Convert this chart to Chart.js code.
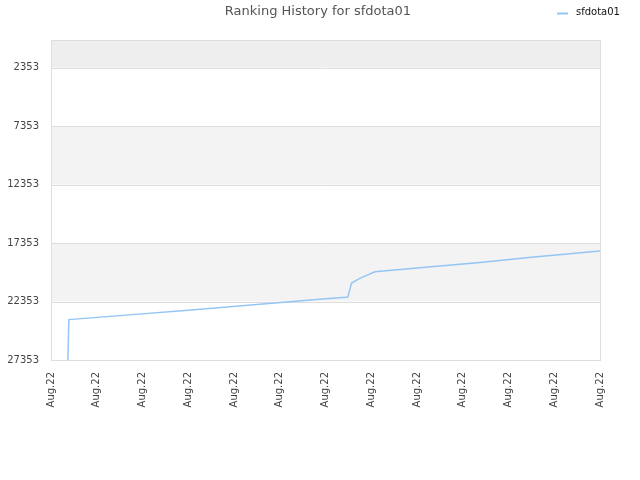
<!DOCTYPE html>
<html>
<head>
<meta charset="utf-8">
<script src="https://cdn.jsdelivr.net/npm/chart.js@4/dist/chart.umd.min.js"></script>
<style>
html,body{margin:0;padding:0;background:#fff;}
#wrap{width:640px;height:480px;position:relative;}
</style>
</head>
<body>
<div id="wrap"><canvas id="c" width="640" height="480"></canvas></div>
<script>
const chartTitle = "Ranking History for sfdota01";
const seriesName = "sfdota01";
const xTickLabels = ["Aug.22","Aug.22","Aug.22","Aug.22","Aug.22","Aug.22","Aug.22","Aug.22","Aug.22","Aug.22","Aug.22","Aug.22","Aug.22"];
const yTickValues = [2353, 7353, 12353, 17353, 22353, 27353];
const dayIndex = [3.7, 3.9, 15, 30, 45, 60, 64.5, 64.9, 65.4, 65.7, 67.5, 70.8, 80, 93.8, 105, 120];
const rankValues = [27353, 23900, 23560, 23090, 22610, 22120, 21990, 21950, 21210, 20780, 20380, 19810, 19480, 19015, 18560, 18030];

const bandPlugin = {
  id: 'bands',
  beforeDatasetsDraw(chart) {
    const {ctx, chartArea, scales} = chart;
    const y = scales.y;
    const bounds = [0].concat(yTickValues);
    ctx.save();
    for (let i = 0; i < bounds.length - 1; i++) {
      if (i % 2 === 0) {
        const p1 = y.getPixelForValue(bounds[i]);
        const p2 = y.getPixelForValue(bounds[i + 1]);
        ctx.fillStyle = i === 0 ? '#eeeeee' : '#f3f3f3';
        ctx.fillRect(chartArea.left, Math.min(p1, p2), chartArea.right - chartArea.left, Math.abs(p2 - p1));
      }
    }
    // grid lines
    ctx.strokeStyle = '#dddddd';
    ctx.lineWidth = 1;
    yTickValues.forEach(v => {
      const p = Math.round(y.getPixelForValue(v)) + 0.5;
      ctx.beginPath();
      ctx.moveTo(chartArea.left, p);
      ctx.lineTo(chartArea.right, p);
      ctx.stroke();
    });
    ctx.strokeRect(Math.round(chartArea.left) + 0.5, Math.round(chartArea.top) + 0.5,
      Math.round(chartArea.right - chartArea.left), Math.round(chartArea.bottom - chartArea.top));
    ctx.restore();
  },
  afterDraw(chart) {
    const ctx = chart.ctx;
    ctx.save();
    ctx.font = '13px "DejaVu Sans"';
    ctx.fillStyle = '#555555';
    ctx.textAlign = 'center';
    ctx.textBaseline = 'middle';
    ctx.fillText(chartTitle, 318, 12);
    // legend
    ctx.strokeStyle = '#95c5f5';
    ctx.lineWidth = 2;
    ctx.beginPath();
    ctx.moveTo(557, 13.5);
    ctx.lineTo(568, 13.5);
    ctx.stroke();
    ctx.font = '10px "DejaVu Sans"';
    ctx.fillStyle = '#111111';
    ctx.textAlign = 'left';
    ctx.fillText(seriesName, 576, 12);
    ctx.restore();
  }
};

new Chart(document.getElementById('c'), {
  type: 'line',
  data: {
    datasets: [{
      label: seriesName,
      data: dayIndex.map((d, i) => ({x: d, y: rankValues[i]})),
      borderColor: '#95c5f5',
      backgroundColor: '#95c5f5',
      borderWidth: 1.5,
      pointRadius: 0,
      tension: 0,
      fill: false
    }]
  },
  options: {
    responsive: false,
    animation: false,
    layout: {padding: {top: 40, right: 40, left: 0, bottom: 0}},
    plugins: {
      legend: {display: false},
      title: {display: false},
      tooltip: {enabled: false}
    },
    scales: {
      x: {
        type: 'linear',
        min: 0,
        max: 120,
        afterBuildTicks(scale) {
          scale.ticks = xTickLabels.map((l, i) => ({value: i * 10}));
        },
        afterFit(scale) { scale.height = 120; },
        grid: {display: false, drawTicks: false},
        border: {display: false},
        ticks: {
          autoSkip: false,
          maxRotation: 90,
          minRotation: 90,
          padding: 12,
          color: '#444444',
          font: {family: 'DejaVu Sans', size: 10},
          callback: (v, i) => xTickLabels[i]
        }
      },
      y: {
        reverse: true,
        min: 0,
        max: 27353,
        afterBuildTicks(scale) {
          scale.ticks = yTickValues.map(v => ({value: v}));
        },
        afterFit(scale) { scale.width = 51; },
        grid: {display: false, drawTicks: false},
        border: {display: false},
        ticks: {
          padding: 12,
          color: '#444444',
          font: {family: 'DejaVu Sans', size: 10},
          callback: v => String(v)
        }
      }
    }
  },
  plugins: [bandPlugin]
});
</script>
</body>
</html>
